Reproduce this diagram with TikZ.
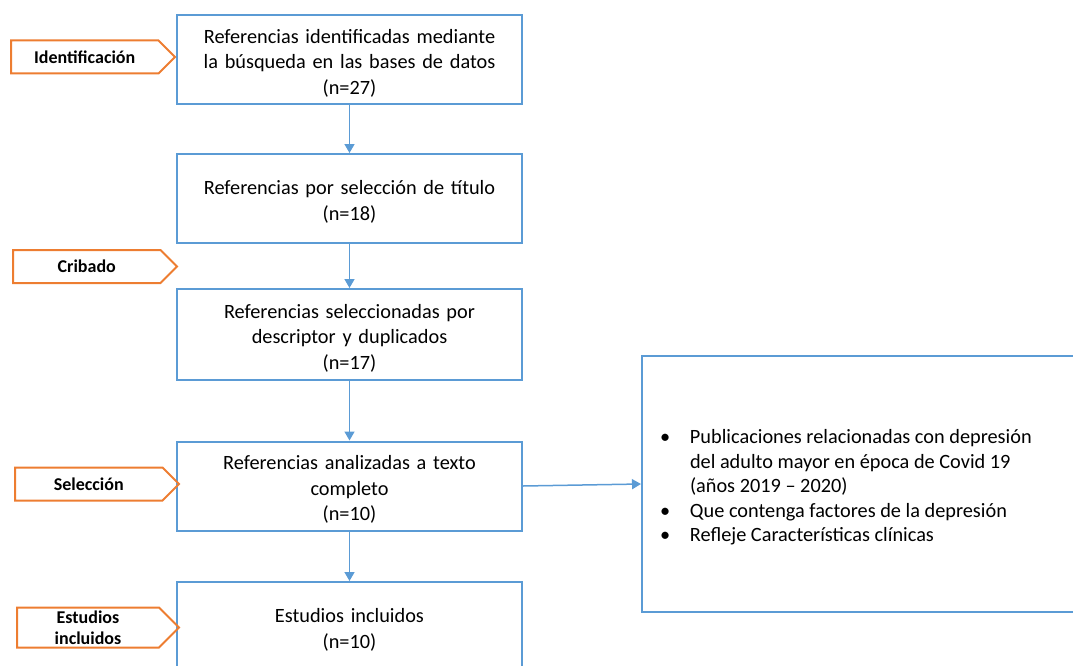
\documentclass[tikz,border=0pt]{standalone}
\usepackage{fontspec}
\setmainfont{Carlito}
\usetikzlibrary{arrows.meta,shapes.symbols,positioning}
\definecolor{azul}{HTML}{5B9BD5}
\definecolor{naranja}{HTML}{ED7D31}

\begin{document}
\begin{tikzpicture}[x=1pt,y=-1pt,
	caja/.style={draw=azul, line width=2pt, minimum width=345pt, minimum height=89pt,
		text width=335pt, align=center, inner sep=0pt, text height=21pt,
		font=\fontsize{20.3}{25.5}\selectfont},
	etiqueta/.style={signal, signal to=east, signal pointer angle=90, draw=naranja,
		line width=2pt, minimum width=164pt, minimum height=33pt, inner sep=0pt,
		align=center, anchor=west, font=\fontsize{18}{21}\selectfont\bfseries},
	flecha/.style={draw=azul, line width=1.5pt, -{Triangle[width=10pt,length=9pt]}}]
	\useasboundingbox (0,0) rectangle (1073,666);
	
	%%%%%%%%%% cajas principales %%%%%%%%%%
	\node[caja] (ident) at (349.5,59.5) {Referencias identificadas mediante\\la búsqueda en las bases de datos\\(n=27)};
	\node[caja] (titulo) at (349.5,198.5) {Referencias por selección de título\\(n=18)};
	\node[caja, minimum height=91pt] (descr) at (349.5,334.5) {Referencias seleccionadas por\\descriptor y duplicados\\(n=17)};
	\node[caja] (texto) at (349.5,486) {Referencias analizadas a texto\\completo\\(n=10)};
	\node[caja] (incl) at (349.5,626.5) {Estudios incluidos\\(n=10)};
	
	%%%%%%%%%% criterios %%%%%%%%%%
	\node[draw=azul, line width=2pt, minimum width=438pt, minimum height=256pt] (crit) at (861,484) {};
	\node[inner sep=0pt, font=\fontsize{20.3}{24.5}\selectfont] (crittxt) at (861,488) {%
		\begin{tabular}{@{}p{30pt}@{}p{372pt}@{}}
			\textbullet & Publicaciones relacionadas con depresión\newline del adulto mayor en época de Covid 19\newline (años 2019 -- 2020)\\
			\textbullet & Que contenga factores de la depresión\\
			\textbullet & Refleje Características clínicas
		\end{tabular}};
	
	%%%%%%%%%% etiquetas %%%%%%%%%%
	\node[etiqueta] (e1) at (10,57) {Identificación};
	\node[etiqueta] (e2) at (12,266.5) {Cribado};
	\node[etiqueta] (e3) at (14,484) {Selección};
	\node[etiqueta, minimum height=40pt, minimum width=162pt] (e4) at (16,627.5) {Estudios\\incluidos};
	
	%%%%%%%%%% flechas %%%%%%%%%%
	\draw[flecha] (ident) -- (titulo);
	\draw[flecha] (titulo) -- (descr);
	\draw[flecha] (descr) -- (texto);
	\draw[flecha] (texto) -- (incl);
	\draw[flecha] (texto.east) -- (crit.west);
\end{tikzpicture}
\end{document}
